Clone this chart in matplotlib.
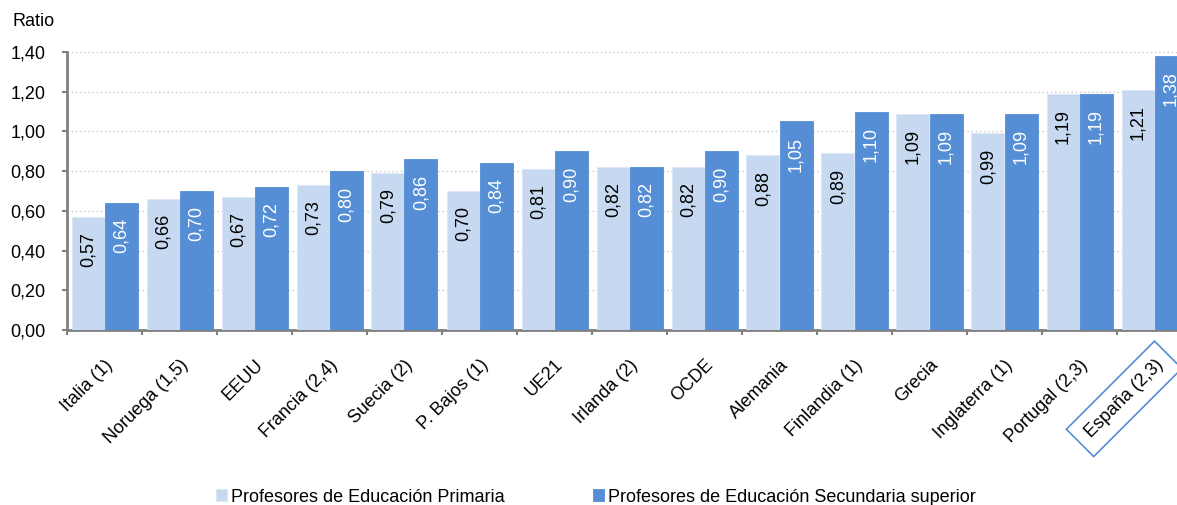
import numpy as np
import matplotlib
matplotlib.use("Agg")
import matplotlib.pyplot as plt

plt.rcParams['font.family'] = ['Liberation Sans', 'DejaVu Sans']

# data
categories = ['Italia (1)', 'Noruega (1,5)', 'EEUU', 'Francia (2,4)', 'Suecia (2)',
              'P. Bajos (1)', 'UE21', 'Irlanda (2)', 'OCDE', 'Alemania',
              'Finlandia (1)', 'Grecia', 'Inglaterra (1)', 'Portugal (2,3)', 'España (2,3)']
primaria = [0.57, 0.66, 0.67, 0.73, 0.79, 0.70, 0.81, 0.82, 0.82, 0.88, 0.89, 1.09, 0.99, 1.19, 1.21]
secundaria = [0.64, 0.70, 0.72, 0.80, 0.86, 0.84, 0.90, 0.82, 0.90, 1.05, 1.10, 1.09, 1.09, 1.19, 1.38]
series_names = ['Profesores de Educación Primaria', 'Profesores de Educación Secundaria superior']
yticks = [0.0, 0.2, 0.4, 0.6, 0.8, 1.0, 1.2, 1.4]

light = '#c6d9f1'
dark = '#558ed5'
fs = 13

fig = plt.figure(figsize=(11.77, 5.05), dpi=100)
# the plot runs past the right edge of the picture in the original
ax = fig.add_axes([67/1177, 1 - 330/505, 1125/1177, 278/505])

x = np.arange(len(categories))
w = 0.44
b1 = ax.bar(x - w/2, primaria, w, color=light, edgecolor='#dbe6f5', linewidth=0.6,
            label=series_names[0], zorder=3)
b2 = ax.bar(x + w/2, secundaria, w, color=dark, edgecolor=dark, linewidth=0.6,
            label=series_names[1], zorder=3)

def fmt(v):
    return f'{v:.2f}'.replace('.', ',')

for bars, vals, col in [(b1, primaria, 'black'), (b2, secundaria, 'white')]:
    for r, v in zip(bars, vals):
        ax.annotate(fmt(v), (r.get_x() + r.get_width()/2, v), xytext=(0, -11),
                    textcoords='offset points', rotation=90, ha='center', va='top',
                    fontsize=fs, color=col, zorder=4)

ax.set_xlim(-0.5, len(categories) - 0.5)
ax.set_ylim(0, 1.4)
ax.set_yticks(yticks)
ax.set_yticklabels([fmt(v) for v in yticks], fontsize=fs)
ax.yaxis.grid(True, linestyle=(0, (1, 2)), color='#c8c8c8', linewidth=1, zorder=0)
ax.set_axisbelow(True)

ax.set_xticks(x)
ax.set_xticklabels(categories, rotation=45, ha='right', va='top',
                   rotation_mode='anchor', fontsize=fs)
ax.tick_params(axis='x', length=0, pad=19)
ax.set_xticks(np.arange(-0.5, len(categories)), minor=True)
ax.tick_params(axis='x', which='minor', length=3.5, width=1.5, color='#808080')
ax.tick_params(axis='y', length=3.5, width=1.5, color='#808080', pad=12)

for s in ['top', 'right']:
    ax.spines[s].set_visible(False)
for s in ['left', 'bottom']:
    ax.spines[s].set_color('#808080')
    ax.spines[s].set_linewidth(2)

# boxed label for Spain
lab = ax.get_xticklabels()[-1]
lab.set_bbox(dict(boxstyle='square,pad=0.6', facecolor='white', edgecolor='#558ed5', linewidth=1.2))

fig.text(13/1177, 1 - 21/505, 'Ratio', fontsize=fs, va='center', ha='left')

fig.legend(handles=[b1, b2], labels=series_names, loc='center', ncol=2,
           bbox_to_anchor=(596/1177, 1 - 497/505), frameon=False, fontsize=fs,
           handlelength=0.6, handleheight=0.6, handletextpad=0.22, columnspacing=4.9,
           borderpad=0, borderaxespad=0)

fig.savefig('out.png', dpi=100)
